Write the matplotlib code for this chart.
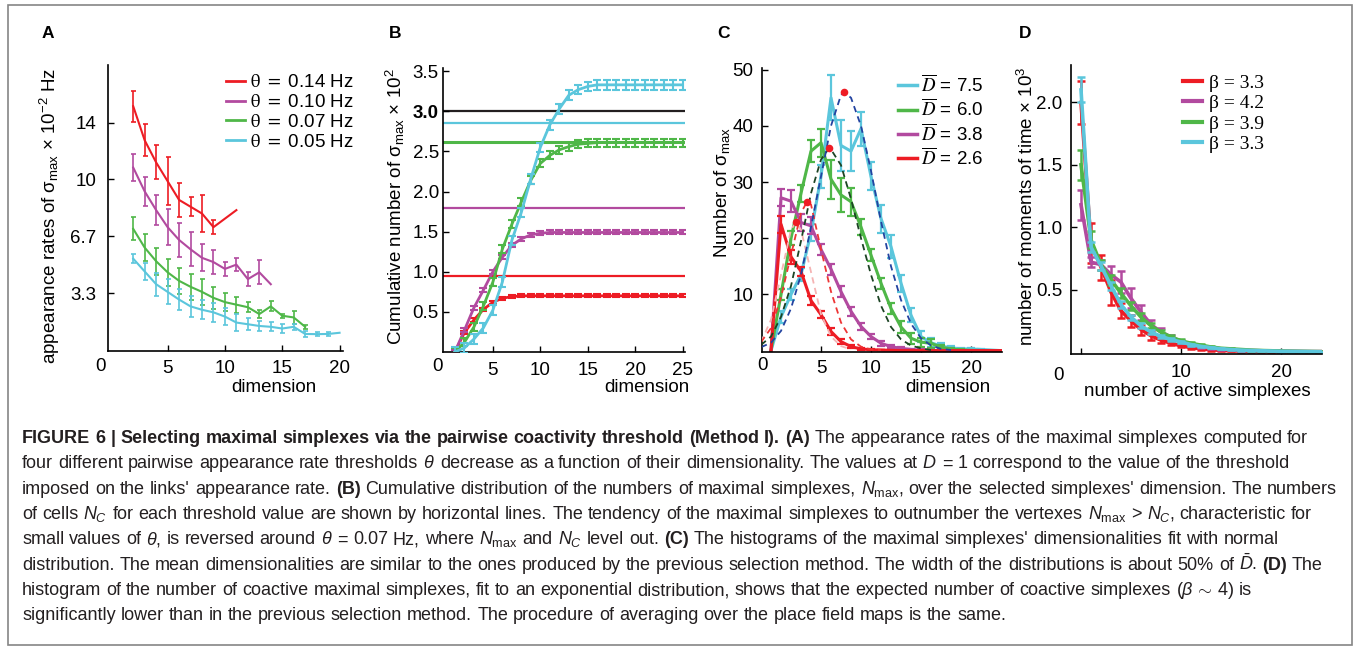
import numpy as np
import matplotlib
matplotlib.use('Agg')
import matplotlib.pyplot as plt
from matplotlib.patches import Rectangle
from matplotlib.font_manager import FontProperties

W, H, DPI = 1358, 648, 100

plt.rcParams['font.family'] = ['Liberation Sans', 'DejaVu Sans']
plt.rcParams['mathtext.fontset'] = 'custom'
plt.rcParams['mathtext.rm'] = 'Liberation Sans'
plt.rcParams['mathtext.it'] = 'Liberation Sans:italic'
plt.rcParams['mathtext.bf'] = 'Liberation Sans:bold'

RED = '#ed1c24'
PUR = '#b24a9f'
GRN = '#4fb748'
CYN = '#5bc6dc'

# ---- A: appearance rates of maximal simplexes vs dimension
a_labels = [r'$\mathrm{\theta}$ $=$ 0.14 Hz', r'$\mathrm{\theta}$ $=$ 0.10 Hz',
            r'$\mathrm{\theta}$ $=$ 0.07 Hz', r'$\mathrm{\theta}$ $=$ 0.05 Hz']
a_red_x = [2, 3, 4, 5, 6, 7, 8, 9, 11]
a_red_y = [14.3, 12.3, 11.0, 9.9, 8.8, 8.4, 8.0, 7.2, 8.2]
a_red_e = [0.9, 0.95, 1.0, 1.4, 1.0, 0.55, 1.1, 0.4, 0]
a_pur_x = [2, 3, 4, 5, 6, 7, 8, 9, 10, 11, 12, 13, 14]
a_pur_y = [10.7, 9.3, 8.2, 7.2, 6.45, 5.9, 5.4, 5.15, 4.75, 5.0, 4.15, 4.55, 3.85]
a_pur_e = [0.8, 0.85, 0.9, 1.05, 1.0, 1.0, 0.8, 0.7, 0.4, 0.37, 0.4, 0.7, 0]
a_grn_x = [2, 3, 4, 5, 6, 7, 8, 9, 10, 11, 12, 13, 14, 15, 16, 17]
a_grn_y = [7.1, 6.0, 5.2, 4.55, 4.05, 3.7, 3.4, 3.05, 2.8, 2.65, 2.5, 2.1, 2.55, 2.0, 1.9, 1.35]
a_grn_e = [0.67, 0.8, 0.8, 0.78, 0.78, 0.76, 0.76, 0.64, 0.55, 0.47, 0.28, 0.26, 0.3, 0.13, 0.37, 0.13]
a_cyn_x = [2, 3, 4, 5, 6, 7, 8, 9, 10, 11, 12, 13, 14, 15, 16, 17, 18, 19, 20]
a_cyn_y = [5.35, 4.6, 3.85, 3.4, 2.95, 2.55, 2.35, 2.2, 1.95, 1.6, 1.5, 1.4, 1.35, 1.25, 1.35,
           0.93, 0.92, 0.93, 1.0]
a_cyn_e = [0.25, 0.5, 0.68, 0.73, 0.62, 0.6, 0.57, 0.56, 0.49, 0.49, 0.34, 0.31, 0.27, 0.25,
           0.18, 0.15, 0.13, 0.1, 0]
a_yticks = [10 / 3, 20 / 3, 10, 40 / 3]
a_yticklabels = ['3.3', '6.7', '10', '14']

# ---- B: cumulative number of maximal simplexes
b_x = list(range(1, 26))
b_red = [0.0, 0.24, 0.40, 0.53, 0.62, 0.67, 0.69, 0.70, 0.70, 0.70, 0.70, 0.70, 0.70,
         0.70, 0.70, 0.70, 0.70, 0.70, 0.70, 0.70, 0.70, 0.70, 0.70, 0.70, 0.70]
b_pur = [0.0, 0.27, 0.55, 0.77, 1.00, 1.18, 1.33, 1.41, 1.46, 1.48, 1.49, 1.49, 1.49,
         1.49, 1.49, 1.49, 1.49, 1.49, 1.49, 1.49, 1.49, 1.49, 1.49, 1.49, 1.49]
b_grn = [0.0, 0.12, 0.31, 0.57, 0.87, 1.28, 1.59, 1.87, 2.14, 2.35, 2.45, 2.52, 2.56,
         2.59, 2.60, 2.61, 2.61, 2.61, 2.61, 2.61, 2.61, 2.61, 2.61, 2.61, 2.61]
b_cyn = [0.0, 0.05, 0.16, 0.30, 0.52, 0.87, 1.39, 1.74, 2.16, 2.55, 2.83, 3.03, 3.20,
         3.27, 3.31, 3.33, 3.33, 3.33, 3.33, 3.33, 3.33, 3.33, 3.33, 3.33, 3.33]
b_err = [0.02, 0.025, 0.05, 0.06]
b_nc = [3.0, 2.85, 2.62, 1.79, 0.95]
b_nc_colors = ['#231f20', CYN, GRN, PUR, RED]
b_yticks = [0.5, 1.0, 1.5, 2.0, 2.5, 3.0, 3.5]

# ---- C: histograms of dimensions with normal fits
c_labels = [r'$\overline{D}$ = 7.5', r'$\overline{D}$ = 6.0', r'$\overline{D}$ = 3.8', r'$\overline{D}$ = 2.6']
c_x = list(range(0, 24))
c_cyn = [0, 6, 10, 13.5, 21, 31, 45, 36.5, 35.5, 39.5, 31, 23.5, 18.5, 12, 6.3, 2.5,
         1.4, 0.8, 0.5, 0.3, 0.3, 0.2, 0.1, 0]
c_cyn_e = [0, 1, 1, 1.2, 1.5, 2, 4, 4.5, 3.5, 3, 2.5, 2.5, 2, 1.5, 1.2, 1, 0.8, 0.5,
           0.3, 0.2, 0.2, 0.1, 0, 0]
c_grn = [0, 10, 20, 28, 35.5, 37, 30.5, 27.7, 26.5, 22, 17, 12, 7.5, 4.2, 2.2, 1.5,
         1.3, 0.6, 0.3, 0.1, 0.05, 0, 0, 0]
c_grn_e = [0, 1, 1.2, 1.5, 2, 2.5, 3.5, 3, 2.5, 1.5, 1, 1, 1, 1, 1, 0.8, 0.8, 0.4,
           0.2, 0.1, 0, 0, 0, 0]
c_pur = [0, 27.2, 26.6, 22.8, 22.2, 18, 14.5, 10.5, 7, 4.3, 2.5, 1.3, 0.7, 0.4, 0.2,
         0.1, 0.05, 0, 0, 0, 0, 0, 0, 0]
c_pur_e = [0, 1.5, 2, 1.5, 1.5, 1, 1, 1, 0.8, 0.6, 0.5, 0.4, 0.3, 0.2, 0.1, 0.1, 0,
           0, 0, 0, 0, 0, 0, 0]
c_red = [0, 22.5, 16.7, 14.1, 8.9, 6.4, 3.4, 1.6, 0.7, 0.3, 0.15, 0.1, 0.05, 0, 0, 0,
         0, 0, 0, 0, 0, 0, 0, 0]
c_red_e = [0, 1.5, 1.2, 0.8, 0.8, 0.6, 0.6, 0.5, 0.3, 0.2, 0.1, 0.05, 0, 0, 0, 0, 0,
           0, 0, 0, 0, 0, 0, 0]
# dashed normal fits
c_fit_cyn_x = [-1, 0, 1, 2, 3, 4, 5, 6, 7, 7.3, 8, 9, 10, 11, 12, 13, 14, 15, 16, 17, 18]
c_fit_cyn_y = [0.6, 1.4, 3.5, 7.5, 13.5, 22, 31, 40, 45.5, 46, 45, 40, 32, 23, 15, 9,
               4.8, 2.2, 0.9, 0.3, 0.1]
c_fit_grn_x = [-1, 0, 1, 2, 3, 4, 5, 5.8, 6, 7, 8, 9, 10, 11, 12, 13, 14, 15, 16]
c_fit_grn_y = [1.0, 2.5, 6, 11.5, 19.5, 28, 34, 36, 35.8, 33, 27, 20, 13.5, 8, 4.2, 2,
               0.9, 0.4, 0.1]
c_fit_pur_x = [-1, 0, 1, 2, 3, 3.6, 4, 5, 6, 7, 8, 9, 10, 11]
c_fit_pur_y = [1.5, 4, 9.5, 17, 24.5, 26.5, 26, 18, 10.5, 5, 2, 0.7, 0.2, 0.1]
c_fit_red_x = [-1, 0, 1, 2, 2.5, 3, 4, 5, 6, 7, 8]
c_fit_red_y = [1.5, 5.5, 13.5, 21.5, 22.9, 21.5, 14, 6.5, 2.5, 0.8, 0.2]
c_peak_x = [7.3, 5.8, 3.6, 2.5]
c_peak_y = [46, 36, 26.5, 22.9]

# ---- D: number of coactive simplexes
d_labels = ['β = 3.3', 'β = 4.2', 'β = 3.9', 'β = 3.3']
d_x = list(range(0, 25))
d_red = [2.0, 0.87, 0.68, 0.48, 0.33, 0.25, 0.18, 0.13, 0.095, 0.07, 0.05, 0.035, 0.025,
         0.018, 0.013, 0.01, 0.008, 0.006, 0.005, 0.004, 0.003, 0.003, 0.002, 0.002, 0.002]
d_pur = [1.18, 0.72, 0.70, 0.62, 0.56, 0.43, 0.32, 0.22, 0.16, 0.12, 0.085, 0.06, 0.045,
         0.035, 0.025, 0.02, 0.015, 0.012, 0.01, 0.008, 0.006, 0.005, 0.004, 0.003, 0.003]
d_grn = [1.5, 0.9, 0.70, 0.58, 0.47, 0.37, 0.28, 0.21, 0.16, 0.12, 0.09, 0.07, 0.055,
         0.04, 0.03, 0.025, 0.02, 0.015, 0.012, 0.01, 0.008, 0.006, 0.005, 0.004, 0.003]
d_cyn = [2.1, 0.84, 0.69, 0.53, 0.38, 0.28, 0.21, 0.16, 0.125, 0.10, 0.08, 0.06, 0.045,
         0.035, 0.025, 0.02, 0.015, 0.012, 0.01, 0.008, 0.006, 0.005, 0.004, 0.003, 0.002]
d_red_e = [0.17, 0.16, 0.1, 0.1, 0.06, 0.05, 0.04, 0.03, 0.02, 0.015, 0.01, 0.01, 0.008,
           0.006, 0.005, 0.004, 0.004, 0.003, 0.003, 0.003, 0.002, 0.002, 0.002, 0.002, 0.002]
d_pur_e = [0.12, 0.04, 0.04, 0.07, 0.09, 0.08, 0.06, 0.04, 0.03, 0.02, 0.015, 0.01, 0.01,
           0.008, 0.006, 0.005, 0.004, 0.003, 0.003, 0.003, 0.002, 0.002, 0.002, 0.002, 0.002]
d_grn_e = [0.12, 0.07, 0.04, 0.04, 0.04, 0.03, 0.03, 0.02, 0.02, 0.015, 0.012, 0.01, 0.008,
           0.006, 0.005, 0.004, 0.004, 0.003, 0.003, 0.003, 0.002, 0.002, 0.002, 0.002, 0.002]
d_cyn_e = [0.1, 0.04, 0.03, 0.03, 0.03, 0.02, 0.02, 0.015, 0.012, 0.01, 0.01, 0.008, 0.006,
           0.005, 0.004, 0.004, 0.003, 0.003, 0.003, 0.002, 0.002, 0.002, 0.002, 0.002, 0.002]

# ---- caption (math kept free of spaces: it is laid out word by word)
cap_lines = [
    [('FIGURE 6 | Selecting maximal simplexes via the pairwise coactivity threshold (Method I). (A)', 'b'),
     ('The appearance rates of the maximal simplexes computed for', 'n')],
    [(r'four different pairwise appearance rate thresholds $\theta$ decrease as a function of their '
      r'dimensionality. The values at $D$ = 1 correspond to the value of the threshold', 'n')],
    [("imposed on the links' appearance rate.", 'n'), ('(B)', 'b'),
     (r"Cumulative distribution of the numbers of maximal simplexes, $N_{\mathrm{max}}$, over the selected "
      r"simplexes' dimension. The numbers", 'n')],
    [(r'of cells $N_C$ for each threshold value are shown by horizontal lines. The tendency of the maximal '
      r'simplexes to outnumber the vertexes $N_{\mathrm{max}}$ > $N_C$, characteristic for', 'n')],
    [(r'small values of $\theta$, is reversed around $\theta$ = 0.07 Hz, where $N_{\mathrm{max}}$ and $N_C$ '
      r'level out.', 'n'), ('(C)', 'b'),
     ("The histograms of the maximal simplexes' dimensionalities fit with normal", 'n')],
    [(r'distribution. The mean dimensionalities are similar to the ones produced by the previous selection '
      r'method. The width of the distributions is about 50% of $\bar{D}$.', 'n'), ('(D)', 'b'), ('The', 'n')],
    [(r'histogram of the number of coactive maximal simplexes, fit to an exponential distribution, shows '
      r'that the expected number of coactive simplexes ($\beta\,\sim\,4$) is', 'n')],
    [('significantly lower than in the previous selection method. The procedure of averaging over the '
      'place field maps is the same.', 'n')],
]
cap_right = [1336, 1298, 1336, 1336, 1305, 1334]   # right ends of the full lines


def fx(x):
    return x / W


def fy(y):
    return 1 - y / H


def panel(x0, y0, x1, y1, xpad, ypad):
    ax = fig.add_axes([fx(x0), fy(y1), (x1 - x0) / W, (y1 - y0) / H])
    ax.spines['top'].set_visible(False)
    ax.spines['right'].set_visible(False)
    for s in ('left', 'bottom'):
        ax.spines[s].set_linewidth(1.2)
    ax.tick_params(direction='in', length=4, width=1, labelsize=13.5)
    ax.tick_params(axis='x', pad=xpad)
    ax.tick_params(axis='y', pad=ypad)
    return ax


def errline(ax, x, y, e, color, lw, elw, cap, z=2):
    x, y, e = np.asarray(x, float), np.asarray(y, float), np.asarray(e, float)
    ax.plot(x, y, color=color, lw=lw, zorder=z, solid_joinstyle='round')
    m = e > 0
    ax.errorbar(x[m], y[m], yerr=e[m], fmt='none', ecolor=color, elinewidth=elw,
                capsize=cap, capthick=elw, zorder=z)


def legend(ax, labels, colors, x, y, lw, prop, pad):
    hs = [plt.Line2D([], [], color=c, lw=lw) for c in colors]
    ax.legend(hs, labels, loc='upper left', bbox_to_anchor=(fx(x), fy(y)),
              bbox_transform=fig.transFigure, frameon=False, borderpad=0,
              borderaxespad=0, handlelength=1.0, handletextpad=pad,
              labelspacing=0.15, prop=prop)


fig = plt.figure(figsize=(W / DPI, H / DPI), dpi=DPI)
fig.add_artist(Rectangle((fx(8), fy(645)), (1352 - 8) / W, (645 - 5) / H,
                         transform=fig.transFigure, fill=False, ec='#858585', lw=1.2))

colors4 = [RED, PUR, GRN, CYN]
sans_stix = FontProperties(family='Liberation Sans', size=13.5, math_fontfamily='stix')

# ---------------- panel A
ax = panel(108, 65, 343, 351, 6.5, 8.5)
for x, y, e, c in [(a_red_x, a_red_y, a_red_e, RED), (a_pur_x, a_pur_y, a_pur_e, PUR),
                   (a_grn_x, a_grn_y, a_grn_e, GRN), (a_cyn_x, a_cyn_y, a_cyn_e, CYN)]:
    errline(ax, x, y, e, c, 1.5, 1.2, 1.8)
ax.set_xlim(-0.2, 20.3)
ax.set_ylim(-0.07, 16.72)
ax.set_xticks([5, 10, 15, 20])
ax.set_yticks(a_yticks)
ax.set_yticklabels(a_yticklabels)
legend(ax, a_labels, colors4, 226, 74, 2.0, sans_stix, 0.27)

# ---------------- panel B
ax = panel(443, 68, 685, 352, 7, 3)
for v, c in zip(b_nc, b_nc_colors):
    ax.axhline(v, color=c, lw=2.2 if c == GRN else 1.6, zorder=1)
for y, e, c in zip([b_red, b_pur, b_grn, b_cyn], b_err, colors4):
    errline(ax, b_x, y, [e] * len(b_x), c, 2.0, 1.5, 2.8, z=3)
ax.set_xlim(-0.25, 25.25)
ax.set_ylim(0, 3.54)
ax.set_xticks([5, 10, 15, 20, 25])
ax.set_yticks(b_yticks)
ax.set_yticklabels(['%.1f' % v for v in b_yticks])
ax.get_yticklabels()[5].set_fontweight('bold')

# ---------------- panel C
ax = panel(762, 68, 1002, 352, 5.5, 6)
for y, e, c in [(c_cyn, c_cyn_e, CYN), (c_grn, c_grn_e, GRN),
                (c_pur, c_pur_e, PUR), (c_red, c_red_e, RED)]:
    errline(ax, c_x, y, e, c, 2.2, 1.6, 3.0)
dash = (0, (3.5, 2.5))
ax.plot(c_fit_red_x, c_fit_red_y, color='#f5b3b3', lw=1.3, ls=dash, zorder=4)
ax.plot(c_fit_pur_x, c_fit_pur_y, color='#ee3535', lw=1.3, ls=dash, zorder=4)
ax.plot(c_fit_grn_x, c_fit_grn_y, color='#1c4424', lw=1.3, ls=dash, zorder=4)
ax.plot(c_fit_cyn_x, c_fit_cyn_y, color='#2343a0', lw=1.3, ls=dash, zorder=4)
ax.scatter(c_peak_x, c_peak_y, s=30, color='#ee1c24', zorder=5, linewidths=0)
ax.set_xlim(-0.9, 23.1)
ax.set_ylim(-0.25, 50.3)
ax.set_xticks([5, 10, 15, 20])
ax.set_yticks([10, 20, 30, 40, 50])
legend(ax, c_labels, [CYN, GRN, PUR, RED], 898, 74, 2.5, sans_stix, 0.25)

# ---------------- panel D
ax = panel(1071, 65, 1322, 354, 7.5, 6)
for y, e, c in [(d_red, d_red_e, RED), (d_pur, d_pur_e, PUR),
                (d_grn, d_grn_e, GRN), (d_cyn, d_cyn_e, CYN)]:
    errline(ax, d_x, y, e, c, 2.6, 1.8, 3.0)
ax.set_xlim(-1, 24.1)
ax.set_ylim(-0.016, 2.3)
ax.set_xticks([0, 10, 20])
ax.set_xticklabels(['', '10', '20'])
ax.set_yticks([0.5, 1.0, 1.5, 2.0])
ax.set_yticklabels(['0.5', '1.0', '1.5', '2.0'])
legend(ax, d_labels, colors4, 1183, 74, 3.0,
       FontProperties(family='Liberation Serif', size=14), 0.35)

# ---------------- axis texts placed like the original
for lab, x, y in [('A', 48, 33), ('B', 395, 33), ('C', 723, 33), ('D', 1025, 33)]:
    fig.text(fx(x), fy(y), lab, fontsize=12.5, fontweight='bold', ha='center', va='center')
for x, y in [(100, 366.5), (437, 366.5), (763, 366), (1058, 376)]:
    fig.text(fx(x), fy(y), '0', fontsize=13.5, ha='center', va='center')
for lab, x, y in [('dimension', 273.5, 388), ('dimension', 647, 388), ('dimension', 947.5, 388),
                  ('number of active simplexes', 1197, 391)]:
    fig.text(fx(x), fy(y), lab, fontsize=13.5, ha='center', va='center')
ylabs = [(r'appearance rates of σ$_{\rm max}$ × 10$^{-2}$ Hz', 50, 216),
         (r'Cumulative number of σ$_{\rm max}$ × 10$^{2}$', 395, 207),
         (r'Number of σ$_{\rm max}$', 722, 192.5),
         (r'number of moments of time × 10$^{3}$', 1027, 206)]
for lab, x, y in ylabs:
    fig.text(fx(x), fy(y), lab, fontsize=13.5, rotation=90, ha='center', va='center')

# ---------------- caption, word by word so bold and math mix
renderer = fig.canvas.get_renderer()


def put_caption(fs):
    objs, ends = [], []
    sp = 0.278 * fs * DPI / 72
    for i, line in enumerate(cap_lines):
        x = 22.0
        y = 443 + 25.35 * i
        for text, style in line:
            for w in text.split(' '):
                if not w:
                    continue
                t = fig.text(fx(x), fy(y), w, fontsize=fs, color='#231f20', va='baseline',
                             fontweight='bold' if style == 'b' else 'normal')
                x += t.get_window_extent(renderer).width + sp
                objs.append(t)
        ends.append(x - sp)
    return objs, ends


objs, ends = put_caption(12.0)
fs = 12.0 * min((r - 22) / (e - 22) for r, e in zip(cap_right, ends))
for t in objs:
    t.remove()
put_caption(fs)

fig.savefig('out.png', dpi=DPI)
